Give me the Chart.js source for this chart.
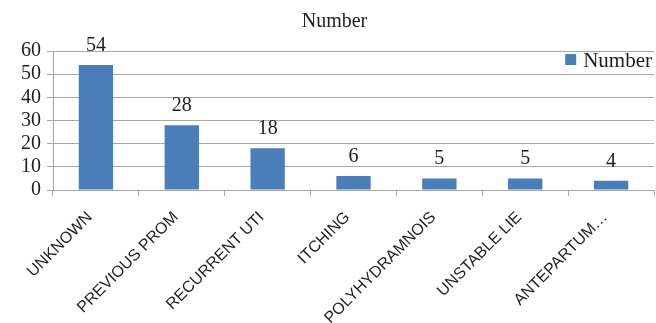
<!DOCTYPE html>
<html>
<head>
<meta charset="utf-8">
<script src="https://cdn.jsdelivr.net/npm/chart.js@4/dist/chart.umd.min.js"></script>
<style>
  html, body { margin: 0; padding: 0; background: #fff; }
  #wrap { width: 656px; height: 323px; }
</style>
</head>
<body>
<div id="wrap"><canvas id="grafico"></canvas></div>
<script>
// DATI
const categorie = ["UNKNOWN", "PREVIOUS PROM", "RECURRENT UTI", "ITCHING", "POLYHYDRAMNOIS", "UNSTABLE LIE", "ANTEPARTUM\u2026"];
const valori = [54, 28, 18, 6, 5, 5, 4];
const nomeSerie = "Number";
const tickY = [0, 10, 20, 30, 40, 50, 60];

const BLU = '#4a7ebb';
const GRIGIO = '#a8a8a8';
const TESTO = '#1e1e1e';
const SERIF = '"Liberation Serif", "Times New Roman", serif';
const SANS = '"Liberation Sans", Arial, sans-serif';

// etichette sopra le barre
const etichetteBarre = {
    id: 'etichetteBarre',
    afterDatasetsDraw(chart) {
        const ctx = chart.ctx;
        const meta = chart.getDatasetMeta(0);
        ctx.save();
        ctx.font = '20px ' + SERIF;
        ctx.fillStyle = TESTO;
        ctx.textAlign = 'center';
        ctx.textBaseline = 'alphabetic';
        meta.data.forEach((bar, i) => {
            ctx.fillText(String(valori[i]), bar.x, bar.y - 14);
        });
        ctx.restore();
    }
};

// legenda dentro l'area del grafico, in alto a destra
const legendaInterna = {
    id: 'legendaInterna',
    afterDraw(chart) {
        const ctx = chart.ctx;
        const area = chart.chartArea;
        ctx.save();
        ctx.font = '21px ' + SERIF;
        const w = ctx.measureText(nomeSerie).width;
        const xt = area.right - 2 - w;
        const yc = area.top + 9;
        ctx.fillStyle = BLU;
        ctx.fillRect(xt - 18, yc - 6, 11, 11);
        ctx.fillStyle = TESTO;
        ctx.textBaseline = 'middle';
        ctx.fillText(nomeSerie, xt, yc + 1);
        ctx.restore();
    }
};

new Chart(document.getElementById('grafico').getContext('2d'), {
    type: 'bar',
    data: {
        labels: categorie,
        datasets: [{
            label: nomeSerie,
            data: valori,
            backgroundColor: BLU,
            borderWidth: 0,
            barPercentage: 0.4,
            categoryPercentage: 1.0
        }]
    },
    options: {
        responsive: true,
        maintainAspectRatio: false,
        animation: false,
        layout: { padding: { left: 15, right: 2, top: 0, bottom: 0 } },
        plugins: {
            legend: { display: false },
            tooltip: { enabled: false },
            title: {
                display: true,
                text: nomeSerie,
                color: TESTO,
                font: { family: SERIF, size: 20, weight: 'normal' },
                padding: { top: 10, bottom: 17 }
            }
        },
        scales: {
            x: {
                afterFit(scale) { scale.height = 133; },
                grid: { display: true, drawOnChartArea: false, drawTicks: true, tickLength: 6, color: GRIGIO, offset: true },
                border: { display: true, color: GRIGIO, width: 1 },
                ticks: {
                    color: TESTO,
                    font: { family: SANS, size: 16 },
                    maxRotation: 45,
                    minRotation: 45,
                    autoSkip: false,
                    padding: 12,
                    labelOffset: -6
                }
            },
            y: {
                min: 0,
                max: 60,
                afterBuildTicks(scale) { scale.ticks = tickY.map(v => ({ value: v })); },
                grid: { color: GRIGIO, lineWidth: 1, drawTicks: true, tickLength: 6 },
                border: { display: true, color: GRIGIO, width: 1 },
                ticks: {
                    color: TESTO,
                    font: { family: SERIF, size: 20 },
                    padding: 6,
                    autoSkip: false
                }
            }
        }
    },
    plugins: [etichetteBarre, legendaInterna]
});
</script>
</body>
</html>
